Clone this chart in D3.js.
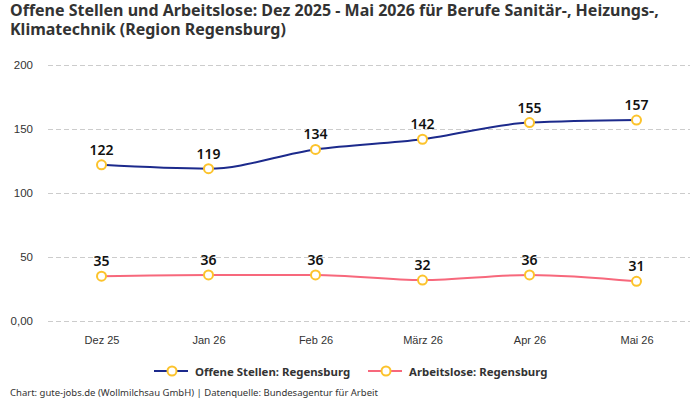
<!DOCTYPE html>
<html>
<head>
<meta charset="utf-8">
<script src="https://cdn.jsdelivr.net/npm/d3@7"></script>
<style>
  body { margin: 0; background: #fff; }
  svg { font-family: "Noto Sans", "Open Sans", sans-serif; }
  .grid line { stroke: #ccc; stroke-dasharray: 5 3; }
  .grid path { display: none; }
  .axis path, .axis line { display: none; }
  .axis text { fill: #333; font-size: 11px; }
  .yaxis text { font-size: 11.5px; }
</style>
</head>
<body>
<div id="chart"></div>
<script>
// data
const months = ['Dez 25', 'Jan 26', 'Feb 26', 'März 26', 'Apr 26', 'Mai 26'];
const offeneStellen = [122, 119, 134, 142, 155, 157];
const arbeitslose = [35, 36, 36, 32, 36, 31];
const yTicks = [0, 50, 100, 150, 200];
const seriesNames = ['Offene Stellen: Regensburg', 'Arbeitslose: Regensburg'];
const seriesColors = ['#1c2a8c', '#f7687c'];

const width = 700, height = 400;
const margin = [65, 79, 48, 10]; // top, bottom, left, right
const markerColor = '#fcc32c';

const svg = d3.select('#chart').append('svg')
    .attr('width', width).attr('height', height)
    .attr('viewBox', `0 0 ${width} ${height}`);

// title, two lines
const titleLines = ['Offene Stellen und Arbeitslose: Dez 2025 - Mai 2026 für Berufe Sanitär-, Heizungs-,',
    'Klimatechnik (Region Regensburg)'];
svg.selectAll('text.title').data(titleLines).join('text').classed('title', true)
    .attr('x', 10).attr('y', (d, i) => 16 + i * 19)
    .style('font-size', '16px').style('font-weight', 'bold').style('fill', '#333')
    .text(d => d);

const scaleX = d3.scalePoint(months, [margin[2], width - margin[3]]).padding(0.5);
const scaleY = d3.scaleLinear([0, 200], [height - margin[1], margin[0]]);

// gridlines
svg.append('g').classed('grid', true)
    .attr('transform', `translate(${margin[2]},0)`)
    .call(d3.axisLeft(scaleY).tickValues(yTicks).tickSize(-(width - margin[2] - margin[3])).tickFormat(''));

// y axis labels
svg.append('g').classed('axis yaxis', true)
    .attr('transform', `translate(${margin[2] - 15},0)`)
    .call(d3.axisLeft(scaleY).tickValues(yTicks).tickSize(0).tickPadding(0)
        .tickFormat(d => d === 0 ? '0,00' : d));

// x axis labels
svg.append('g').classed('axis', true)
    .attr('transform', `translate(0,${height - margin[1] + 15})`)
    .call(d3.axisBottom(scaleX).tickSize(0).tickPadding(0));

const line = d3.line()
    .x((d, i) => scaleX(months[i]))
    .y(d => scaleY(d))
    .curve(d3.curveMonotoneX);

[offeneStellen, arbeitslose].forEach((values, k) => {
    const g = svg.append('g');
    g.append('path').datum(values)
        .attr('d', line)
        .attr('fill', 'none')
        .attr('stroke', seriesColors[k])
        .attr('stroke-width', 2);
    g.selectAll('circle').data(values).join('circle')
        .attr('cx', (d, i) => scaleX(months[i]))
        .attr('cy', d => scaleY(d))
        .attr('r', 4.5)
        .attr('fill', '#fff')
        .attr('stroke', markerColor)
        .attr('stroke-width', 2);
    g.selectAll('text').data(values).join('text')
        .attr('x', (d, i) => scaleX(months[i]))
        .attr('y', d => scaleY(d) - 10)
        .attr('text-anchor', 'middle')
        .style('font-size', '14px').style('font-weight', '600').style('fill', '#111')
        .text(d => d);
});

// legend
const legendX = [154, 368];
seriesNames.forEach((name, k) => {
    const lg = svg.append('g').attr('transform', `translate(${legendX[k]},371)`);
    lg.append('line').attr('x1', 0).attr('x2', 34).attr('y1', 0).attr('y2', 0)
        .attr('stroke', seriesColors[k]).attr('stroke-width', 2);
    lg.append('circle').attr('cx', 18).attr('cy', 0).attr('r', 4.5)
        .attr('fill', '#fff').attr('stroke', markerColor).attr('stroke-width', 2);
    lg.append('text').attr('x', 41).attr('y', 4.5)
        .style('font-size', '11.4px').style('font-weight', 'bold').style('fill', '#333')
        .text(name);
});

// footer
svg.append('text').attr('x', 10).attr('y', 396)
    .style('font-size', '9.5px').style('fill', '#333')
    .text('Chart: gute-jobs.de (Wollmilchsau GmbH) | Datenquelle: Bundesagentur für Arbeit');
</script>
</body>
</html>
